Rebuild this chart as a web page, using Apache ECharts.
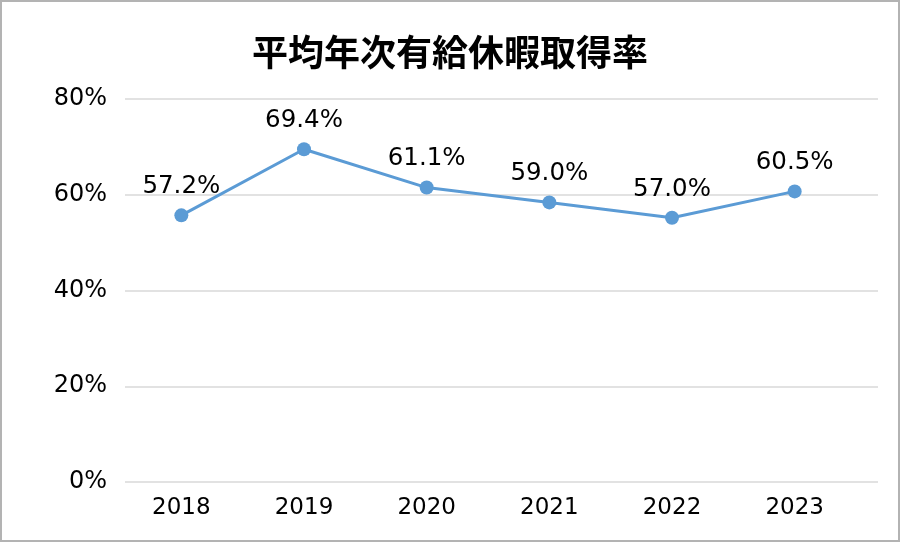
<!DOCTYPE html>
<html><head><meta charset="utf-8">
<script src="https://cdn.jsdelivr.net/npm/echarts@6/dist/echarts.min.js"></script>
<style>
html,body{margin:0;padding:0;background:#fff;}
#c{width:900px;height:542px;box-sizing:border-box;border:2px solid #b3b3b3;}
</style></head>
<body><div id="c"></div>
<script>
const title = '平均年次有給休暇取得率';
const years = ['2018','2019','2020','2021','2022','2023'];
// plotted positions
const rates = [55.7, 69.5, 61.5, 58.4, 55.2, 60.7];
// data label texts as printed on the chart
const rateLabels = ['57.2%','69.4%','61.1%','59.0%','57.0%','60.5%'];
const yTicks = [0, 20, 40, 60, 80];

const TFONT = '"Noto Sans CJK JP", sans-serif';
const NFONT = '"DejaVu Sans", "Noto Sans", sans-serif';
const chart = echarts.init(document.getElementById('c'), null, {renderer:'canvas'});
const gTop = 97, gBottom = 538 - 480;
chart.setOption({
  animation: false,
  title: {
    text: title, left: 'center', top: 27,
    textStyle: {fontFamily: TFONT, fontSize: 36, fontWeight: 'bold', color: '#000'}
  },
  grid: [
    {left: 123, right: 20, top: gTop, bottom: gBottom},
    {left: 118, right: 42, top: gTop, bottom: gBottom}
  ],
  xAxis: [
    {gridIndex: 0, type: 'value', min: 0, max: 1, show: false},
    {gridIndex: 1, type: 'category', data: years,
     axisLine: {show: false}, axisTick: {show: false},
     axisLabel: {fontFamily: NFONT, fontSize: 23, color: '#000', margin: 15}}
  ],
  yAxis: [
    {gridIndex: 0, type: 'value', min: yTicks[0], max: yTicks[yTicks.length-1], interval: 20,
     axisLine: {show: false}, axisTick: {show: false},
     splitLine: {lineStyle: {color: '#d9d9d9', width: 1.5}},
     axisLabel: {fontFamily: NFONT, fontSize: 24, color: '#000', margin: 18, formatter: v => v + '%'}},
    {gridIndex: 1, type: 'value', min: yTicks[0], max: yTicks[yTicks.length-1], interval: 20, show: false}
  ],
  series: [{
    type: 'line', xAxisIndex: 1, yAxisIndex: 1,
    data: rates,
    symbol: 'circle', symbolSize: 14,
    lineStyle: {color: '#5b9bd5', width: 3},
    itemStyle: {color: '#5b9bd5'},
    label: {show: true, position: 'top', distance: 9,
      fontFamily: NFONT, fontSize: 24.5, color: '#000',
      formatter: p => rateLabels[p.dataIndex]}
  }]
});
</script></body></html>
